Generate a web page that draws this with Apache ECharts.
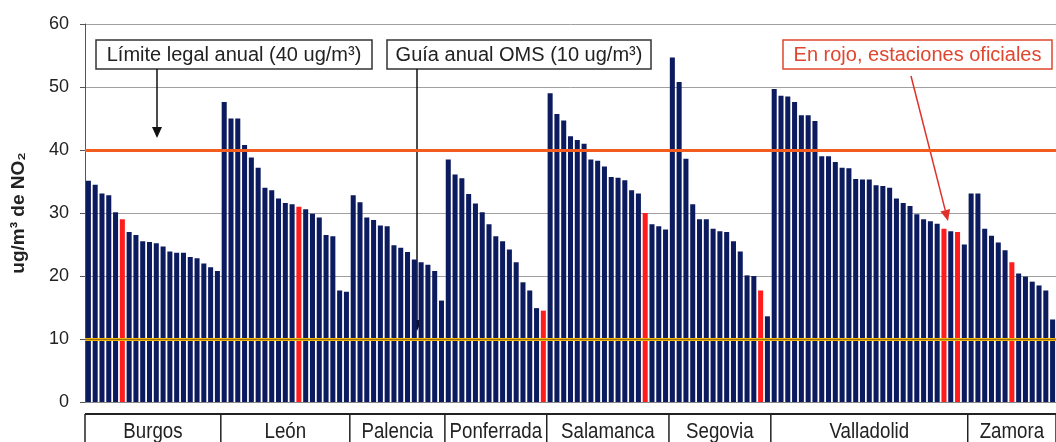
<!DOCTYPE html>
<html>
<head>
<meta charset="utf-8">
<script src="https://cdn.jsdelivr.net/npm/echarts@6/dist/echarts.min.js"></script>
<style>
  html, body { margin: 0; background: #fff; }
  #main { width: 1056px; height: 442px; }
</style>
</head>
<body>
<div id="main"></div>
<script>
// concentraciones medias anuales de NO2 por estación, agrupadas por ciudad
const cities = ['Burgos', 'León', 'Palencia', 'Ponferrada', 'Salamanca', 'Segovia', 'Valladolid', 'Zamora'];
const burgos = [35.1, 34.5, 33.1, 32.8, 30.1, 29.0, 27.0, 26.5, 25.5, 25.4, 25.2, 24.7, 23.9, 23.7, 23.7, 23.0, 22.8, 22.0, 21.4, 20.8];
const leon = [47.6, 45.0, 45.0, 40.8, 38.8, 37.2, 34.0, 33.6, 32.3, 31.6, 31.4, 31.0, 30.6, 29.9, 29.3, 26.5, 26.3, 17.7, 17.5];
const palencia = [32.8, 31.7, 29.3, 28.9, 28.0, 27.9, 24.9, 24.5, 23.8, 22.6, 22.2, 21.8, 20.8, 16.1];
const ponferrada = [38.5, 36.1, 35.5, 33.0, 31.5, 30.1, 28.2, 26.3, 25.5, 24.2, 22.2, 19.0, 17.7, 14.9, 14.5];
const salamanca = [49.0, 45.7, 44.7, 42.2, 41.6, 41.0, 38.5, 38.3, 37.4, 35.7, 35.6, 35.2, 33.6, 33.1, 30.0, 28.2, 27.9, 27.4];
const segovia = [54.7, 50.8, 38.6, 31.4, 29.0, 29.0, 27.5, 27.1, 27.0, 25.5, 23.9, 20.1, 20.0, 17.7, 13.6];
const valladolid = [49.7, 48.6, 48.5, 47.6, 45.5, 45.5, 44.6, 39.0, 39.0, 38.1, 37.2, 37.1, 35.4, 35.3, 35.3, 34.4, 34.3, 34.0, 32.3, 31.6, 31.1, 29.8, 29.0, 28.7, 28.3, 27.5, 27.1, 27.0, 25.0];
const zamora = [33.1, 33.1, 27.5, 26.4, 25.3, 24.1, 22.2, 20.4, 19.9, 19.1, 18.5, 17.7, 13.1];
// índices de las estaciones oficiales (en rojo) dentro de cada ciudad
const official = [[5], [11], [], [14], [14], [13], [25, 27], [6]];
const yTicks = [0, 10, 20, 30, 40, 50, 60];
const legalLimit = 40;   // límite legal anual
const whoGuide = 10;     // guía anual OMS

const groups = [burgos, leon, palencia, ponferrada, salamanca, segovia, valladolid, zamora];

var categories = [];
var barData = [];
var groupStart = [];
groups.forEach(function (vals, g) {
  groupStart.push(categories.length);
  vals.forEach(function (v, i) {
    categories.push(cities[g] + ' ' + (i + 1));
    var red = official[g].indexOf(i) >= 0;
    barData.push({ value: v, itemStyle: { color: red ? '#ff1c1c' : '#0c1a5e' } });
  });
});
groupStart.push(categories.length);

var chart = echarts.init(document.getElementById('main'));

var option = {
  animation: false,
  grid: { left: 85, right: -3, top: 24, bottom: 40 },
  xAxis: {
    type: 'category',
    data: categories,
    axisLine: { lineStyle: { color: '#888', width: 1 } },
    axisTick: { show: false },
    axisLabel: { show: false }
  },
  yAxis: {
    type: 'value',
    min: yTicks[0],
    max: yTicks[yTicks.length - 1],
    interval: 10,
    name: 'ug/m³ de NO₂',
    nameLocation: 'middle',
    nameRotate: 90,
    nameGap: 57,
    nameTextStyle: { fontFamily: 'Liberation Sans, Arial', fontWeight: 'bold', fontSize: 19, color: '#222' },
    axisLine: { show: true, lineStyle: { color: '#555' } },
    axisTick: { show: true, length: 5, lineStyle: { color: '#555' } },
    axisLabel: { fontFamily: 'Liberation Sans, Arial', fontSize: 18, color: '#222', margin: 16 },
    splitLine: { lineStyle: { color: '#a0a0a0', width: 1 } }
  },
  series: [{
    type: 'bar',
    data: barData,
    barCategoryGap: '26%',
    markLine: {
      silent: true,
      symbol: 'none',
      label: { show: false },
      data: [
        { yAxis: legalLimit, lineStyle: { color: '#f25c1f', width: 3, type: 'solid' } },
        { yAxis: whoGuide, lineStyle: { color: '#f4b400', width: 3, type: 'solid' } },
        { yAxis: whoGuide, lineStyle: { color: '#5a4a20', width: 0.6, type: 'solid' } }
      ]
    }
  }]
};
chart.setOption(option);

// caja de etiquetas de ciudades bajo el eje
var px = function (i) { return chart.convertToPixel({ xAxisIndex: 0 }, i); };
var pitch = px(1) - px(0);
var yBase = chart.convertToPixel({ yAxisIndex: 0 }, 0);
var boxTop = yBase + 12;
var edge = function (i) { return px(0) + (i - 0.5) * pitch; };

var els = [];
els.push({ type: 'line', shape: { x1: edge(0), y1: boxTop, x2: 1060, y2: boxTop }, style: { stroke: '#222', lineWidth: 2 } });
for (var g = 0; g < groupStart.length; g++) {
  var xb = edge(groupStart[g]);
  els.push({ type: 'line', shape: { x1: xb, y1: boxTop, x2: xb, y2: 445 }, style: { stroke: '#222', lineWidth: 1.5 } });
  if (g < cities.length) {
    var xc = (edge(groupStart[g]) + edge(groupStart[g + 1])) / 2;
    els.push({
      type: 'text', x: xc, y: boxTop + 18, scaleX: 0.85,
      style: { text: cities[g], fontFamily: 'Liberation Sans, Arial', fontSize: 22, fill: '#222', align: 'center', verticalAlign: 'middle' }
    });
  }
}

// anotaciones
function noteBox(x, w, text, color) {
  els.push({ type: 'rect', shape: { x: x, y: 40, width: w, height: 29 }, style: { fill: '#fff', stroke: color, lineWidth: 1.5 } });
  els.push({
    type: 'text', x: x + w / 2, y: 55,
    style: { text: text, fontFamily: 'Liberation Sans, Arial', fontSize: 20, fill: color === '#333' ? '#222' : color, align: 'center', verticalAlign: 'middle' }
  });
}
function arrow(x1, y1, x2, y2, color) {
  var a = Math.atan2(y2 - y1, x2 - x1);
  var hl = 11, hw = 5;
  var bx = x2 - hl * Math.cos(a), by = y2 - hl * Math.sin(a);
  els.push({ type: 'line', shape: { x1: x1, y1: y1, x2: bx, y2: by }, style: { stroke: color, lineWidth: 1.5 } });
  els.push({
    type: 'polygon',
    shape: { points: [[x2, y2], [bx + hw * Math.sin(a), by - hw * Math.cos(a)], [bx - hw * Math.sin(a), by + hw * Math.cos(a)]] },
    style: { fill: color }
  });
}
noteBox(96, 276, 'Límite legal anual (40 ug/m³)', '#333');
noteBox(387, 264, 'Guía anual OMS (10 ug/m³)', '#333');
noteBox(783, 269, 'En rojo, estaciones oficiales', '#e0462e');
arrow(157, 69, 157, 138, '#111');
arrow(417, 69, 417, 331, '#111');
arrow(911, 76, 948, 221, '#e0302a');

chart.setOption({ graphic: els });
</script>
</body>
</html>
